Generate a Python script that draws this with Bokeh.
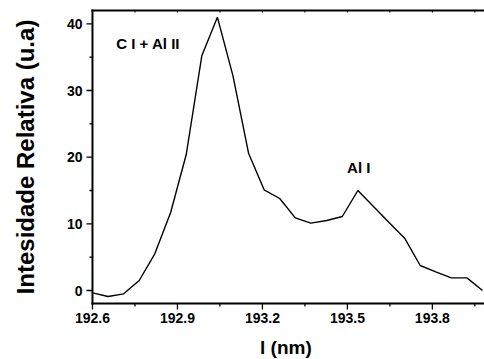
import math
from bokeh.plotting import figure
from bokeh.models import Range1d
from bokeh.core.properties import value
from bokeh.embed import file_html
from bokeh.resources import INLINE

# Data
wavelength = [192.600, 192.655, 192.710, 192.765, 192.820, 192.876, 192.931,
              192.986, 193.041, 193.096, 193.151, 193.206, 193.261, 193.316,
              193.371, 193.427, 193.482, 193.537, 193.592, 193.647, 193.702,
              193.757, 193.812, 193.867, 193.922, 193.977]
intensity = [-0.35, -0.9, -0.5, 1.5, 5.5, 11.7, 20.4, 35.2, 41.0, 32.2, 20.6,
             15.1, 13.8, 10.9, 10.1, 10.5, 11.1, 15.0, 12.6, 10.2, 7.85, 3.75,
             2.8, 1.9, 1.9, 0.0]

x_ticks = [192.6, 192.9, 193.2, 193.5, 193.8]
x_minor = [192.75, 193.05, 193.35, 193.65, 193.95]
y_ticks = [0, 10, 20, 30, 40]
y_minor = [5, 15, 25, 35]
x_tick_labels = ["192.6", "192.9", "193.2", "193.5", "193.8"]
y_tick_labels = ["0", "10", "20", "30", "40"]

x_title = "l  (nm)"
y_title = "Intesidade Relativa (u.a)"

label_text = ["C I + Al II", "Al I"]
label_x = [192.684, 193.499]
label_y = [37.05, 18.5]

# axis extents (data units)
x_left, x_right = 192.6, 193.984
y_bot, y_top = -1.95, 42.0

FONT = "Liberation Sans"
W, H = 484, 359
# visible window so that the axes box sits where the reference has it
X_VIEW = (192.2753, 193.984)
Y_VIEW = (-10.35, 43.5)
ux = (X_VIEW[1] - X_VIEW[0]) / W   # data units per pixel (x)
uy = (Y_VIEW[1] - Y_VIEW[0]) / H   # data units per pixel (y)

p = figure(width=W, height=H, output_backend="svg", toolbar_location=None,
           x_range=Range1d(*X_VIEW), y_range=Range1d(*Y_VIEW),
           x_axis_location=None, y_axis_location=None,
           min_border_left=0, min_border_right=0, min_border_top=0,
           min_border_bottom=0)
p.outline_line_color = None
p.grid.visible = False
p.background_fill_color = "white"
p.border_fill_color = "white"

# spectrum
p.line(wavelength, intensity, line_color="black", line_width=1.4)

# axis lines (left, bottom, top)
p.segment(x0=[x_left, x_left, x_left], y0=[y_bot, y_bot, y_top],
          x1=[x_left, x_right, x_right], y1=[y_top, y_bot, y_top],
          line_color="black", line_width=2, line_cap="square")

# bottom ticks
p.segment(x0=x_ticks, y0=[y_bot] * len(x_ticks), x1=x_ticks,
          y1=[y_bot - 6 * uy] * len(x_ticks), line_color="black", line_width=1.3)
p.segment(x0=x_minor, y0=[y_bot] * len(x_minor), x1=x_minor,
          y1=[y_bot - 3 * uy] * len(x_minor), line_color="black", line_width=1.3)
# top ticks (small, inward)
top_t = x_ticks + x_minor
p.segment(x0=top_t, y0=[y_top] * len(top_t), x1=top_t,
          y1=[y_top - 2 * uy] * len(top_t), line_color="black", line_width=1)
# left ticks
p.segment(x0=[x_left] * len(y_ticks), y0=y_ticks,
          x1=[x_left - 6 * ux] * len(y_ticks), y1=y_ticks,
          line_color="black", line_width=1.3)
p.segment(x0=[x_left] * len(y_minor), y0=y_minor,
          x1=[x_left - 3 * ux] * len(y_minor), y1=y_minor,
          line_color="black", line_width=1.3)

# tick labels
p.text(x=x_ticks, y=[y_bot - 9 * uy] * len(x_ticks), text=x_tick_labels,
       text_font=value(FONT), text_font_style="bold", text_font_size="14px",
       text_color="black", text_align="center", text_baseline="top")
p.text(x=[x_left - 10 * ux] * len(y_ticks), y=y_ticks, text=y_tick_labels,
       text_font=value(FONT), text_font_style="bold", text_font_size="14px",
       text_color="black", text_align="right", text_baseline="middle")

# axis titles
p.text(x=[(x_left + x_right) / 2], y=[y_bot - 44 * uy], text=[x_title],
       text_font=value(FONT), text_font_style="bold", text_font_size="19px",
       text_color="black", text_align="center", text_baseline="middle")
p.text(x=[x_left - 67 * ux], y=[(y_bot + y_top) / 2], text=[y_title],
       angle=math.pi / 2, text_font=value(FONT), text_font_style="bold",
       text_font_size="24px", text_color="black", text_align="center",
       text_baseline="middle")

# annotations
p.text(x=label_x, y=label_y, text=label_text, text_font=value(FONT),
       text_font_style="bold", text_font_size="15px", text_color="black",
       text_baseline="middle", text_align="left")

open("out.html", "w").write(file_html(p, INLINE))
